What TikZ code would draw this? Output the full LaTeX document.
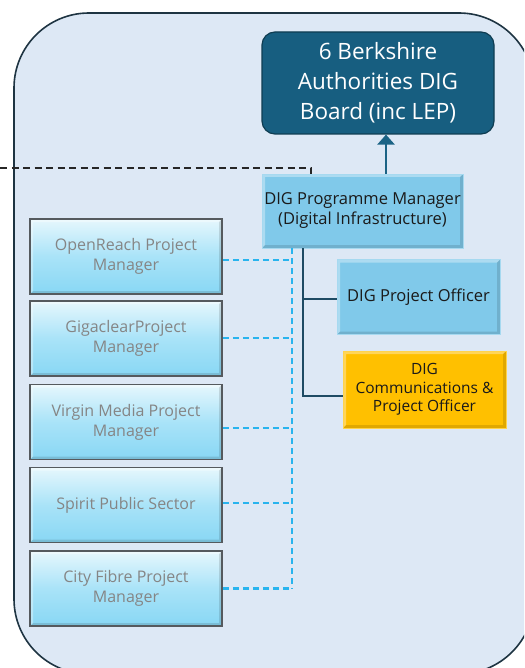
\documentclass[tikz,border=0pt]{standalone}
\usepackage{fontspec}
\setmainfont{Open Sans}
\usetikzlibrary{calc,arrows.meta}

\definecolor{panelfill}{HTML}{DDE8F5}
\definecolor{panelline}{HTML}{1E3442}
\definecolor{boardfill}{HTML}{175E80}
\definecolor{boardline}{HTML}{0F3D52}
\definecolor{linkblue}{HTML}{1B6385}
\definecolor{skybox}{HTML}{80C9EA}
\definecolor{goldbox}{HTML}{FFC000}
\definecolor{treeline}{HTML}{1E4B64}
\definecolor{cyanline}{HTML}{29B4EE}
\definecolor{partnertop}{HTML}{E6F7FD}
\definecolor{partnermid}{HTML}{A9E3F8}
\definecolor{partnerbot}{HTML}{88D7F4}
\definecolor{partnerline}{HTML}{555a5e}
\definecolor{partnertext}{HTML}{858585}
\definecolor{bodytext}{HTML}{1A1A1A}

\tikzset{
  x=1pt, y=-1pt,
  bevel/.style={path picture={
    \fill[white,opacity=.35]
      (path picture bounding box.north west) -- (path picture bounding box.north east)
      -- ([xshift=-3pt,yshift=-3pt]path picture bounding box.north east)
      -- ([xshift=3pt,yshift=-3pt]path picture bounding box.north west)
      -- ([xshift=3pt,yshift=3pt]path picture bounding box.south west)
      -- (path picture bounding box.south west) -- cycle;
    \fill[black,opacity=.12]
      (path picture bounding box.south west) -- (path picture bounding box.south east)
      -- (path picture bounding box.north east)
      -- ([xshift=-3pt,yshift=-3pt]path picture bounding box.north east)
      -- ([xshift=-3pt,yshift=3pt]path picture bounding box.south east)
      -- ([xshift=3pt,yshift=3pt]path picture bounding box.south west) -- cycle;
  }},
  board/.style={draw=boardline, line width=1.2pt, fill=boardfill,
    rounded corners=13pt, minimum width=232pt, minimum height=102pt,
    inner sep=0pt, text=white, align=center,
    font=\fontsize{22.5}{30}\selectfont},
  rolebox/.style={fill=skybox, draw=skybox!70!white, line width=0.6pt,
    inner sep=0pt, align=center, text=bodytext, bevel},
  partner/.style={top color=partnertop, bottom color=partnerbot,
    middle color=partnermid, draw=partnerline, line width=1.8pt,
    minimum width=192pt, minimum height=75pt, inner sep=0pt,
    align=center, text=partnertext, bevel,
    font=\fontsize{16}{20}\selectfont},
  reportarrow/.style={draw=linkblue, line width=2.8pt,
    -{Triangle[width=17pt,length=10pt]}},
  tree/.style={draw=treeline, line width=2.8pt},
  partnerlink/.style={draw=cyanline, line width=2.2pt,
    dash pattern=on 6pt off 4pt},
  externaldash/.style={draw=black!85, line width=2.4pt,
    dash pattern=on 7pt off 4.5pt},
}

\begin{document}
\begin{tikzpicture}
\useasboundingbox (0,0) rectangle (524,668);
\clip (0,0) rectangle (524,668);

% programme panel
\draw[fill=panelfill, draw=panelline, line width=1.6pt, rounded corners=75pt]
  (14,13) rectangle (534,674);

% governance
\node[board] (board) at (378,83) {6 Berkshire\\Authorities DIG\\Board (inc LEP)};

\node[rolebox, minimum width=201pt, minimum height=74pt,
      font=\fontsize{16.5}{20}\selectfont] (pm) at (362.5,211)
  {DIG Programme Manager\\(Digital Infrastructure)};

\node[rolebox, minimum width=163pt, minimum height=75pt,
      font=\fontsize{16.5}{20}\selectfont] (officer) at (418.5,297)
  {DIG Project Officer};

\node[rolebox, fill=goldbox, draw=goldbox!70!white,
      minimum width=163pt, minimum height=77pt,
      font=\fontsize{15.5}{18.5}\selectfont] (comms) at (424.5,389.5)
  {DIG\\Communications \&\\Project Officer};

% delivery partners
\node[partner] (p1) at (126,256.5) {OpenReach Project\\Manager};
\node[partner] (p2) at (126,338.5) {GigaclearProject\\Manager};
\node[partner] (p3) at (126,422)   {Virgin Media Project\\Manager};
\node[partner] (p4) at (126,505)   {Spirit Public Sector};
\node[partner] (p5) at (126,588.5) {City Fibre Project\\Manager};

% external link
\coordinate (ext) at (0,168);
\draw[externaldash] (ext) -| ($(pm.north west)+(49,0)$);

% reporting line to the board
\coordinate (ax) at ($(board.south)+(8,0)$);
\draw[reportarrow] (pm.north -| ax) -- (ax);

% team tree
\coordinate (trunk) at ($(pm.south)+(-59.5,0)$);
\draw[tree] (trunk) |- ($(comms.west)+(0,6.5)$);
\draw[tree] ($(officer.west)+(0,2)$) coordinate (ob) -- (ob -| trunk);

% partner links
\coordinate (cv) at ($(pm.south)+(-70.5,0)$);
\draw[partnerlink] (cv) -- (cv |- p5.east);
\draw[partnerlink] ($(p1.east)+(0,3.5)$) coordinate (q1) -- (q1 -| cv);
\draw[partnerlink] ($(p2.east)+(0,-0.5)$) coordinate (q2) -- (q2 -| cv);
\draw[partnerlink] ($(p3.east)+(0,6)$) coordinate (q3) -- (q3 -| cv);
\draw[partnerlink] ($(p4.east)+(0,-2)$) coordinate (q4) -- (q4 -| cv);
\draw[partnerlink] (p5.east) -- (p5.east -| cv);
\end{tikzpicture}
\end{document}
